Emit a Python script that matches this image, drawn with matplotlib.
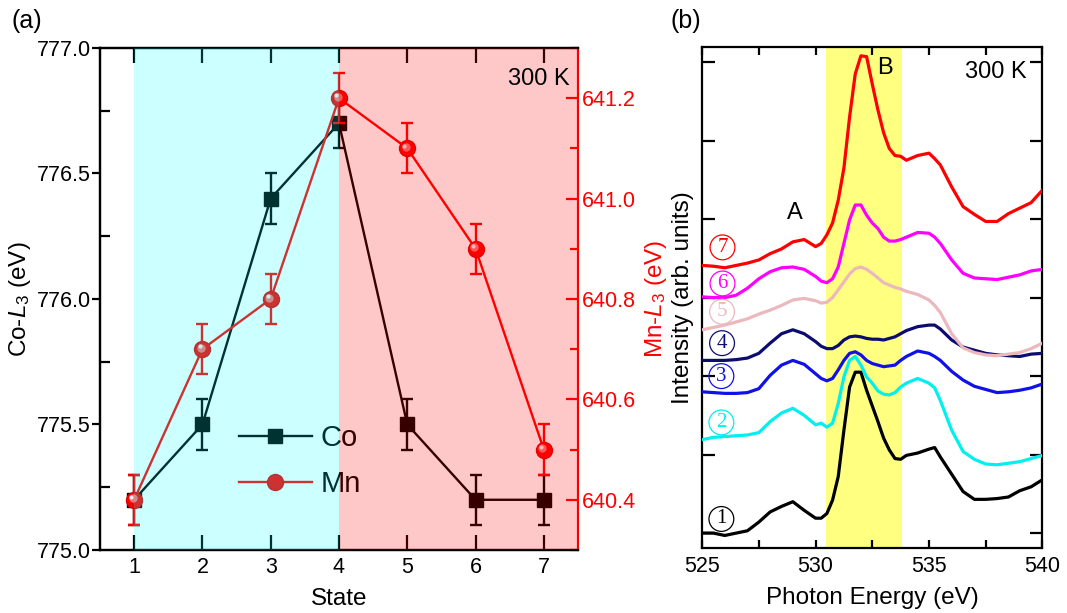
import matplotlib
matplotlib.use('Agg')
import matplotlib.pyplot as plt
from matplotlib.transforms import offset_copy
from matplotlib.ticker import MultipleLocator, FormatStrFormatter
from matplotlib.lines import Line2D

plt.rcParams['font.family'] = ['Liberation Sans', 'DejaVu Sans']
plt.rcParams['mathtext.fontset'] = 'custom'
plt.rcParams['mathtext.rm'] = 'Liberation Sans'
plt.rcParams['mathtext.it'] = 'Liberation Sans:italic'

# ---------------- panel (a) data ----------------
states = [1, 2, 3, 4, 5, 6, 7]
co_l3 = [775.2, 775.5, 776.4, 776.7, 775.5, 775.2, 775.2]
co_err = [0.1, 0.1, 0.1, 0.1, 0.1, 0.1, 0.1]
mn_l3 = [640.4, 640.7, 640.8, 641.2, 641.1, 640.9, 640.5]
mn_err = [0.05, 0.05, 0.05, 0.05, 0.05, 0.05, 0.05]

# ---------------- panel (b) data ----------------
energy = [525, 525.5, 526, 526.5, 527, 527.5, 528, 528.5, 529, 529.5, 530,
          530.25, 530.5, 530.75, 531, 531.25, 531.5, 531.75, 532, 532.25, 532.5,
          532.75, 533, 533.25, 533.5, 533.75, 534, 534.5, 535, 535.25, 535.5,
          536, 536.5, 537, 537.5, 538, 538.5, 539, 539.5, 540]
spec1 = [0.00, 0.00, -0.03, 0.00, 0.03, 0.14, 0.27, 0.34, 0.40, 0.29, 0.19,
         0.19, 0.25, 0.42, 0.72, 1.31, 1.86, 2.05, 2.05, 1.82, 1.62,
         1.42, 1.21, 1.06, 0.95, 0.94, 0.99, 1.02, 1.07, 1.09, 0.97,
         0.75, 0.53, 0.43, 0.43, 0.44, 0.46, 0.54, 0.59, 0.68]
spec2 = [1.19, 1.22, 1.23, 1.24, 1.25, 1.28, 1.42, 1.53, 1.59, 1.50, 1.38,
         1.40, 1.35, 1.40, 1.65, 1.99, 2.20, 2.25, 2.14, 1.99, 1.91,
         1.81, 1.77, 1.76, 1.79, 1.86, 1.91, 1.97, 1.91, 1.85, 1.69,
         1.31, 1.04, 0.94, 0.88, 0.87, 0.89, 0.91, 0.95, 0.99]
spec3 = [1.80, 1.79, 1.78, 1.78, 1.79, 1.84, 2.01, 2.14, 2.20, 2.15, 2.03,
         1.97, 1.94, 1.97, 2.08, 2.20, 2.29, 2.31, 2.27, 2.20, 2.16,
         2.14, 2.12, 2.13, 2.14, 2.20, 2.25, 2.32, 2.29, 2.25, 2.20,
         2.06, 1.95, 1.87, 1.83, 1.79, 1.80, 1.82, 1.85, 1.90]
spec4 = [2.20, 2.20, 2.20, 2.21, 2.23, 2.29, 2.42, 2.54, 2.59, 2.54, 2.44,
         2.38, 2.35, 2.35, 2.39, 2.46, 2.50, 2.51, 2.50, 2.48, 2.47,
         2.47, 2.46, 2.48, 2.50, 2.54, 2.58, 2.63, 2.65, 2.65, 2.60,
         2.46, 2.37, 2.33, 2.29, 2.27, 2.26, 2.25, 2.28, 2.29]
spec5 = [2.59, 2.62, 2.65, 2.69, 2.73, 2.79, 2.84, 2.90, 2.97, 2.99, 2.96,
         2.93, 2.94, 3.00, 3.10, 3.20, 3.30, 3.37, 3.39, 3.36, 3.31,
         3.25, 3.19, 3.16, 3.13, 3.11, 3.08, 3.04, 2.97, 2.90, 2.81,
         2.54, 2.36, 2.30, 2.27, 2.26, 2.28, 2.30, 2.35, 2.42]
spec6 = [3.01, 3.00, 3.00, 3.03, 3.12, 3.24, 3.33, 3.38, 3.39, 3.36, 3.27,
         3.21, 3.19, 3.24, 3.39, 3.69, 3.99, 4.18, 4.18, 4.05, 3.95,
         3.88, 3.77, 3.72, 3.72, 3.74, 3.77, 3.83, 3.82, 3.77, 3.69,
         3.48, 3.31, 3.25, 3.24, 3.23, 3.26, 3.29, 3.34, 3.36]
spec7 = [3.41, 3.40, 3.38, 3.41, 3.44, 3.48, 3.56, 3.62, 3.71, 3.74, 3.65,
         3.69, 3.80, 3.95, 4.24, 4.65, 5.30, 5.85, 6.08, 6.07, 5.72,
         5.39, 5.10, 4.90, 4.81, 4.80, 4.75, 4.81, 4.84, 4.77, 4.69,
         4.41, 4.16, 4.06, 3.97, 3.97, 4.07, 4.14, 4.21, 4.37]
spectra = [spec1, spec2, spec3, spec4, spec5, spec6, spec7]
spec_colors = ['black', '#00f0f0', '#1010e8', '#0c0c70', '#ecb8be', '#ff00ff', '#ff0000']
label_text = ['1', '2', '3', '4', '5', '6', '7']
label_pos_e = [525.85, 525.85, 525.85, 525.88, 525.88, 525.9, 525.9]
label_pos_i = [0.18, 1.41, 2.00, 2.42, 2.82, 3.18, 3.64]

fig = plt.figure(figsize=(10.67, 6.13), dpi=100)

# ================= panel (a) =================
ax = fig.add_axes([0.0937, 0.1028, 0.448, 0.819])
ax2 = ax.twinx()

ax.errorbar(states, co_l3, yerr=co_err, color='black', marker='s', ms=9.5,
            lw=1.7, elinewidth=1.7, capsize=4.5, capthick=1.7, zorder=3)
ax2.errorbar(states, mn_l3, yerr=mn_err, color='#ff0000', marker='o', ms=11.5,
             mec='#e00000', lw=1.7, elinewidth=1.7, capsize=4.5, capthick=1.7, zorder=3)
# sphere-like highlight on the Mn markers
hl1 = offset_copy(ax2.transData, fig=fig, x=-1.0, y=1.0, units='points')
hl2 = offset_copy(ax2.transData, fig=fig, x=-2.0, y=2.0, units='points')
ax2.plot(states, mn_l3, ls='none', marker='o', ms=6, color='#ff7070', mec='none',
         transform=hl1, zorder=4)
ax2.plot(states, mn_l3, ls='none', marker='o', ms=3, color='#ffe8e8', mec='none',
         transform=hl2, zorder=5)

ax.set_xlim(0.5, 7.5)
ax.set_ylim(775.0, 777.0)
ax2.set_ylim(640.3, 641.3)
ax.set_xticks(states)
ax.yaxis.set_major_locator(MultipleLocator(0.5))
ax.yaxis.set_minor_locator(MultipleLocator(0.25))
ax.yaxis.set_major_formatter(FormatStrFormatter('%.1f'))
ax2.yaxis.set_major_locator(MultipleLocator(0.2))
ax2.yaxis.set_minor_locator(MultipleLocator(0.1))
ax2.yaxis.set_major_formatter(FormatStrFormatter('%.1f'))

ax.tick_params(axis='x', which='major', direction='in', top=True, length=11,
               width=1.6, labelsize=15.5, pad=5)
ax.tick_params(axis='y', which='major', direction='out', length=6, width=1.6,
               labelsize=15.5, pad=0.5)
ax.tick_params(axis='y', which='minor', direction='in', length=7, width=1.6)
ax2.tick_params(axis='y', which='major', direction='in', length=9, width=1.6,
                labelsize=15.5, colors='red', pad=3)
ax2.tick_params(axis='y', which='minor', direction='in', length=6, width=1.6,
                colors='red')
for s in ax.spines.values():
    s.set_linewidth(1.6)
for s in ax2.spines.values():
    s.set_linewidth(1.6)
ax.spines['right'].set_visible(False)
ax2.spines['right'].set_color('red')

ax.set_xlabel('State', fontsize=17.5)
ax.xaxis.set_label_coords(0.5, -0.075)
ax.set_ylabel('Co-$L_3$ (eV)', fontsize=17.5)
ax.yaxis.set_label_coords(-0.14, 0.5)
ax2.set_ylabel('Mn-$L_3$ (eV)', fontsize=17.5, color='red', rotation=90)
ax2.yaxis.set_label_coords(1.137, 0.5)

handles = [Line2D([], [], color='black', marker='s', ms=9.5, lw=1.7),
           Line2D([], [], color='#ff0000', marker='o', ms=11.5, mec='#e00000', lw=1.7)]
ax.legend(handles, ['Co', 'Mn'], loc='upper left', bbox_to_anchor=(0.29, 0.25),
          frameon=False, fontsize=21, handlelength=2.5, handletextpad=0.3,
          labelspacing=0.6, borderpad=0, borderaxespad=0)

# translucent shading laid over the data
ax2.axvspan(1, 4, color=(0.0, 1.0, 1.0), alpha=0.2, lw=0, zorder=10)
ax2.axvspan(4, 7.5, color=(1.0, 0.0, 0.0), alpha=0.216, lw=0, zorder=10)

ax2.text(0.983, 0.938, '300 K', transform=ax2.transAxes, ha='right', va='center',
         fontsize=17, zorder=12)
fig.text(0.011, 0.985, '(a)', ha='left', va='top', fontsize=18)

# ================= panel (b) =================
bx = fig.add_axes([0.658, 0.106, 0.319, 0.817])
bx.axvspan(530.45, 533.8, color='#ffff80', lw=0, zorder=0)
for spec, col in zip(spectra, spec_colors):
    bx.plot(energy, spec, color=col, lw=2.3, solid_joinstyle='round', zorder=3)

for t, e, i, col in zip(label_text, label_pos_e, label_pos_i, spec_colors):
    bx.text(e, i, t, fontfamily='Liberation Serif', fontsize=15, color=col,
            ha='center', va='center', zorder=4,
            bbox=dict(boxstyle='circle,pad=0.14', fc='none', ec=col, lw=0.9))

bx.text(529.1, 4.08, 'A', fontsize=17, ha='center', va='center')
bx.text(533.06, 5.92, 'B', fontsize=17, ha='center', va='center')
bx.text(0.954, 0.95, '300 K', transform=bx.transAxes, ha='right', va='center',
        fontsize=17)

bx.set_xlim(525, 540)
bx.set_ylim(-0.19, 6.19)
bx.set_xticks([525, 530, 535, 540])
bx.xaxis.set_minor_locator(MultipleLocator(2.5))
bx.set_yticks([0, 1, 2, 3, 4, 5, 6])
bx.tick_params(axis='x', which='both', direction='in', top=True, length=6,
               width=1.6, labelsize=15.5, pad=6)
bx.tick_params(axis='y', which='both', direction='in', left=True, right=True,
               length=9, width=1.6, labelleft=False)
for s in bx.spines.values():
    s.set_linewidth(1.6)
bx.set_xlabel('Photon Energy (eV)', fontsize=17.5)
bx.xaxis.set_label_coords(0.5, -0.078)
bx.set_ylabel('Intensity (arb. units)', fontsize=17.5)
bx.yaxis.set_label_coords(-0.024, 0.5)
fig.text(0.628, 0.985, '(b)', ha='left', va='top', fontsize=18)

fig.savefig('out.png', dpi=100)
